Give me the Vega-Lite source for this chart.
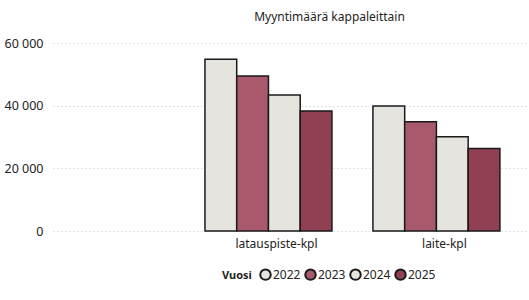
{
  "$schema": "https://vega.github.io/schema/vega-lite/v6.json",
  "autosize": {"type": "none"},
  "width": 475,
  "height": 188,
  "padding": {"left": 53, "top": 43, "right": 1, "bottom": 69},
  "background": "white",
  "title": {
    "text": "Myyntimäärä kappaleittain",
    "anchor": "middle",
    "dx": 39,
    "offset": 13,
    "fontSize": 12,
    "fontWeight": "normal",
    "font": "Noto Sans",
    "color": "#252423"
  },
  "data": {
    "values": [
      {"cat": "latauspiste-kpl", "year": "2022", "value": 54800},
      {"cat": "latauspiste-kpl", "year": "2023", "value": 49500},
      {"cat": "latauspiste-kpl", "year": "2024", "value": 43400},
      {"cat": "latauspiste-kpl", "year": "2025", "value": 38300},
      {"cat": "laite-kpl", "year": "2022", "value": 39900},
      {"cat": "laite-kpl", "year": "2023", "value": 34900},
      {"cat": "laite-kpl", "year": "2024", "value": 30100},
      {"cat": "laite-kpl", "year": "2025", "value": 26300}
    ]
  },
  "mark": {"type": "bar", "stroke": "#1a1a1a", "strokeWidth": 1.5},
  "encoding": {
    "x": {
      "field": "cat",
      "type": "nominal",
      "title": null,
      "sort": null,
      "scale": {"domain": ["latauspiste-kpl", "laite-kpl"], "paddingInner": 0.244, "paddingOuter": 0.536, "align": 0.844},
      "axis": {"labelAngle": 0, "domain": false, "ticks": false, "labelPadding": 7, "labelOffset": 8, "labelFontSize": 12, "labelFont": "Noto Sans", "labelColor": "#252423"}
    },
    "xOffset": {
      "field": "year",
      "type": "nominal",
      "sort": ["2022", "2023", "2024", "2025"],
      "scale": {"paddingInner": 0, "paddingOuter": 0}
    },
    "y": {
      "field": "value",
      "type": "quantitative",
      "title": null,
      "scale": {"domain": [0, 60000], "nice": false},
      "axis": {
        "values": [0, 20000, 40000, 60000],
        "labelExpr": "replace(format(datum.value, ','), ',', ' ')",
        "domain": false,
        "ticks": false,
        "labelPadding": 10,
        "labelFontSize": 12.5,
        "labelFont": "Noto Sans",
        "labelColor": "#252423",
        "gridColor": "#c8c6c4",
        "gridDash": [1, 3],
        "gridWidth": 1
      }
    },
    "fill": {
      "field": "year",
      "type": "nominal",
      "scale": {"domain": ["2022", "2023", "2024", "2025"], "range": ["#E6E4DF", "#A85A6C", "#E6E4DF", "#913F53"]},
      "legend": {
        "title": "Vuosi",
        "orient": "none",
        "direction": "horizontal",
        "legendX": 169,
        "legendY": 225,
        "titleOrient": "left",
        "titleFont": "Noto Sans",
        "titleFontSize": 11,
        "titleFontWeight": "bold",
        "titleColor": "#252423",
        "titlePadding": 7,
        "labelFont": "Noto Sans",
        "labelFontSize": 12,
        "labelColor": "#252423",
        "labelOffset": 1,
        "columnPadding": 0,
        "symbolType": "circle",
        "symbolSize": 110,
        "symbolStrokeColor": "#1a1a1a",
        "symbolStrokeWidth": 2,
        "symbolOpacity": 1
      }
    }
  },
  "config": {"view": {"stroke": null}}
}
